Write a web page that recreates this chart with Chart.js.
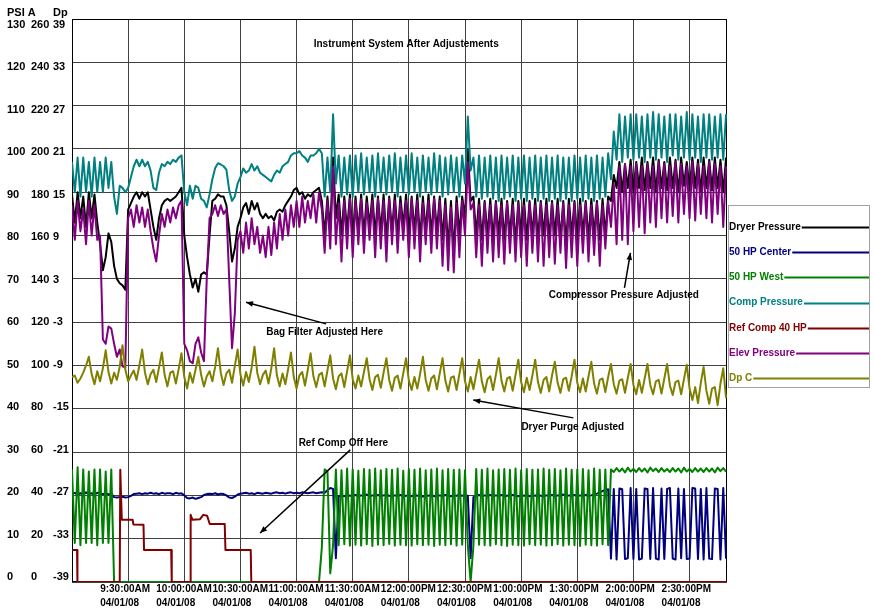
<!DOCTYPE html>
<html>
<head>
<meta charset="utf-8">
<title>Instrument System After Adjustements</title>
<script src="https://cdn.jsdelivr.net/npm/chart.js@4.4.1/dist/chart.umd.min.js"></script>
<style>
  html, body { margin: 0; padding: 0; background: #fff; }
  #grafico { display: block; }
</style>
</head>
<body>
<canvas id="grafico" width="874" height="614"></canvas>
<script>
// minutes between samples, t = 0 is 9:00:00AM
const STEP = 1.5;

// x axis: tick times (minutes after 9:00) and their labels
const timeTicks = [30, 60, 90, 120, 150, 180, 210, 240, 270, 300, 330];
const timeLabels = ['9:30:00AM', '10:00:00AM', '10:30:00AM', '11:00:00AM', '11:30:00AM', '12:00:00PM',
  '12:30:00PM', '1:00:00PM', '1:30:00PM', '2:00:00PM', '2:30:00PM'];
const dateLabel = '04/01/08';

// the three left columns
const psiTicks = [0, 10, 20, 30, 40, 50, 60, 70, 80, 90, 100, 110, 120, 130];
const col2Ticks = [0, 20, 40, 60, 80, 100, 120, 140, 160, 180, 200, 220, 240, 260];
const dpTicks = [-39, -33, -27, -21, -15, -9, -3, 3, 9, 15, 21, 27, 33, 39];

// PSI A, one value every STEP minutes
const dryerPressure = [
  89.5, 83, 90, 84, 89, 82, 90, 84, 89.5, 83,
  78, 72, 75, 80.5, 78.5, 73, 70, 69, 68.5, 67.5,
  86, 87.5, 89, 90, 88.5, 90, 89, 90, 86, 82,
  79, 84, 87, 88, 88.5, 88, 88.5, 89, 90, 91,
  80, 75, 71, 68, 70, 67, 71, 71.5, 71, 80,
  88, 88.5, 89.5, 89, 89, 87, 81, 74, 77, 82,
  84, 86.5, 87.5, 85, 88, 86, 87.5, 85, 84, 85,
  84, 84.5, 83.5, 85.5, 86, 85.5, 87, 88, 89, 90.5,
  91, 89.5, 90, 88.5, 89.5, 89, 90, 90.5, 91, 88,
  80, 89, 81, 98, 84, 89.5, 80, 89, 81, 89.5,
  79, 89, 81, 89.5, 80, 89, 82, 89.5, 80, 89,
  81, 89.5, 79, 89, 81, 89.5, 80, 89, 82, 89.5,
  80, 89, 81, 89.5, 79, 89, 81, 89.5, 80, 89,
  81, 89, 79, 88.5, 77, 88, 76, 89, 80, 89,
  84, 100, 88, 89, 80, 88.5, 79, 88, 80, 88.5,
  79, 88, 80, 88.5, 79, 88, 80, 88.5, 78, 88,
  80, 88.5, 79, 88, 80, 88.5, 79, 88, 80, 88.5,
  79, 88, 80, 88.5, 79, 88, 78, 88.5, 80, 88,
  79, 88.5, 80, 88, 79, 88.5, 80, 88, 79, 88.5,
  80, 89, 88, 94, 91, 97, 90, 96.5, 91, 97.5,
  90, 97, 91, 98, 90.5, 97, 91, 98, 90, 97.5,
  91, 97, 90.5, 98, 91, 97.5, 90, 98, 91.5, 97,
  90.5, 98, 91, 97.5, 90, 98, 91, 97.5, 90.5, 98,
  91, 97.5, 90, 98
];

const hp50Center = [
  20.3, 20.6, 20.1, 20.5, 20.2, 20.7, 20.3, 20.5, 20.2, 20.6,
  20.4, 20.3, 20.5, 20.2, 20.4, 19.6, 19.5, 19.6, 19.7, 19.5,
  19.6, 19.9, 20.3, 20.4, 20.5, 20.3, 20.5, 20.4, 20.6, 20.4,
  20.5, 20.3, 20.6, 20.4, 20.5, 20.5, 20.3, 20.6, 20.4, 20.5,
  20.0, 19.4, 19.3, 19.5, 19.2, 19.4, 19.6, 20.1, 20.3, 20.4,
  20.3, 20.5, 20.2, 20.4, 20.3, 20.0, 19.5, 19.4, 19.7, 20.2,
  20.4, 20.5, 20.6, 20.4, 20.5, 20.3, 20.6, 20.5, 20.4, 20.6,
  20.5, 20.4, 20.6, 20.7, 20.5, 20.6, 20.4, 20.6, 20.7, 20.5,
  20.6, 20.5, 20.7, 20.6, 20.5, 20.6, 20.7, 20.5, 20.6, 20.7,
  20.6, 21.2, 21.7, 21.5, 5.5, 19.8, 20.0, 19.8, 20.1, 19.9,
  19.9, 20.1, 19.8, 20.0, 19.9, 20.2, 19.8, 20.0, 19.9, 20.1,
  19.8, 20.0, 20.1, 19.9, 19.8, 20.0, 19.9, 20.1, 19.8, 19.9,
  20.0, 19.8, 20.1, 19.9, 20.0, 19.7, 20.0, 19.9, 20.1, 19.8,
  19.9, 20.0, 19.8, 20.1, 19.9, 19.8, 20.0, 19.9, 20.1, 19.9,
  20.0, 19.9, 5.5, 19.6, 19.9, 20.1, 19.8, 20.0, 19.9, 20.1,
  19.8, 20.0, 19.9, 20.1, 19.8, 19.9, 20.0, 20.1, 19.9, 19.8,
  20.0, 19.9, 20.1, 19.8, 20.0, 19.9, 20.1, 19.9, 19.8, 20.0,
  19.9, 20.1, 19.8, 20.0, 19.9, 20.2, 19.8, 20.0, 19.9, 20.1,
  19.8, 20.0, 19.9, 20.1, 19.9, 20.0, 20.2, 20.4, 20.7, 21.0,
  21.2, 21.4, 5.4, 21.5, 5.2, 21.6, 21.4, 5.3, 5.5, 21.7,
  5.3, 21.5, 5.2, 5.4, 21.6, 21.5, 5.3, 21.7, 5.4, 5.2,
  21.6, 5.3, 21.5, 21.7, 5.4, 5.2, 21.6, 5.5, 21.5, 5.3,
  5.4, 21.7, 21.6, 5.3, 21.5, 5.2, 21.7, 5.4, 5.3, 21.6,
  21.5, 5.2, 21.7, 5.4
];

const hp50West = [
  26, 9, 26.5, 8.5, 26, 9, 25.5, 9, 26, 8.5,
  26, 9, 25.5, 9, 26, 0, 0, 0, 0, 0,
  0, 0, 0, 0, 0, 0, 0, 0, 0, 0,
  0, 0, 0, 0, 0, 0, 0, 0, 0, 0,
  0, 0, 0, 0, 0, 0, 0, 0, 0, 0,
  0, 0, 0, 0, 0, 0, 0, 0, 0, 0,
  0, 0, 0, 0, 0, 0, 0, 0, 0, 0,
  0, 0, 0, 0, 0, 0, 0, 0, 0, 0,
  0, 0, 0, 0, 0, 0, 0, 0, 0, 8,
  26, 25.5, 2, 8.5, 26, 8.5, 25.8, 8.7, 26.2, 8.4,
  26, 8.6, 25.7, 8.4, 26.1, 8.7, 25.9, 8.3, 26.2, 8.6,
  25.8, 8.5, 26.1, 8.8, 25.9, 8.4, 26.2, 8.6, 25.7, 8.5,
  26.1, 8.4, 25.9, 8.7, 26.2, 8.5, 25.8, 8.6, 26.0, 8.3,
  26.2, 8.6, 25.8, 8.5, 26.1, 8.7, 25.9, 8.4, 26.0, 8.6,
  25.8, 8.5, 0, 8.4, 26.1, 8.6, 25.9, 8.5, 26.2, 8.4,
  25.8, 8.7, 26.0, 8.5, 26.1, 8.3, 25.9, 8.6, 26.2, 8.5,
  25.8, 8.4, 26.1, 8.7, 25.9, 8.5, 26.0, 8.6, 26.2, 8.4,
  25.9, 8.5, 26.1, 8.7, 25.8, 8.4, 26.2, 8.6, 25.9, 8.5,
  26.0, 8.3, 26.1, 8.6, 25.8, 8.5, 26.2, 8.4, 25.9, 8.7,
  26.0, 8.5, 26.0, 25.4, 26.3, 25.5, 26.2, 25.3, 26.4, 25.5,
  26.1, 25.4, 26.3, 25.5, 26.2, 25.3, 26.4, 25.6, 26.2, 25.4,
  26.3, 25.5, 26.1, 25.4, 26.3, 25.5, 26.2, 25.3, 26.4, 25.5,
  26.1, 25.4, 26.3, 25.5, 26.2, 25.4, 26.3, 25.5, 26.2, 25.3,
  26.4, 25.6, 26.3, 25.5
];

const compPressure = [
  97, 90, 98, 89, 98, 90, 97, 89, 98, 90,
  97, 90, 98, 91, 97, 89, 85, 91.5, 91, 90,
  91, 93.5, 96, 97.5, 96, 97.5, 96, 97, 95, 91,
  90.5, 94.5, 96.5, 96, 97, 96.5, 97.5, 97, 98, 98.5,
  90, 87, 91.5, 88.5, 91.5, 91, 88.5, 88, 86.5, 89.5,
  93, 95.6, 96.7, 96.4, 96, 95.2, 90.5, 88, 89, 92,
  93.5, 95.5, 94.5, 95, 96.5, 95, 96, 94.5, 94, 93.5,
  93, 92.5, 94, 95, 94.5, 96, 96.5, 97, 98.5, 99,
  99, 99.5, 98.5, 98, 97, 98.5, 98.5, 99, 100, 99,
  89, 98, 90, 108, 92, 98.5, 89, 98, 89.5, 98.5,
  89, 98.5, 90, 99, 89.5, 98, 90, 98.5, 89, 99,
  90, 98, 89.5, 98.5, 90, 99, 89, 98, 90, 98.5,
  89.5, 99, 90, 98, 89, 98.5, 90, 98, 89.5, 99,
  90, 98.5, 89, 98, 89.5, 98.5, 90, 98, 89, 98.5,
  92, 107.5, 95, 98, 89, 98.5, 88.5, 98, 89, 98.5,
  88.5, 98, 88, 98.5, 88.5, 98, 89, 98.5, 88, 98,
  88.5, 98.5, 88, 98, 88.5, 98.5, 88, 98, 88.5, 98.5,
  88, 98, 88.5, 98.5, 88, 98, 88.5, 98, 88, 98.5,
  88.5, 98, 88, 98.5, 88.5, 98, 88, 98.5, 88.5, 98,
  89, 99, 93, 104, 97.5, 108, 97, 107.5, 98, 108,
  97.5, 108, 98, 107.5, 97, 108, 98, 108.5, 97.5, 108,
  98, 107.5, 97, 108, 98.5, 108, 97.5, 107.5, 98, 108.5,
  97.5, 108, 98, 107.5, 97, 108, 98, 108, 97.5, 107.5,
  98, 108, 97.5, 108
];

// Ref Comp 40 HP is a step trace: times (min) and values
const refCompT = [0, 2.7, 2.9, 25.5, 25.8, 26.6, 32.4, 32.8, 38.2, 38.5, 53, 53.3,
  63.1, 63.4, 64.3, 68.4, 70.2, 72.2, 73.6, 81.6, 82, 95.5, 95.8, 350];
const refCompV = [7.4, 7.4, 0, 0, 25.9, 14.4, 14.4, 13.3, 13.2, 7.4, 7.4, 0,
  0, 15.5, 14.4, 14.5, 15.5, 15.3, 13.4, 13.4, 7.4, 7.4, 0, 0];

const elevPressure = [
  87, 79, 88, 81, 86, 78, 88, 80, 87, 79,
  80, 56, 55, 59, 58.5, 55, 52, 53.7, 49.8, 49.5,
  84, 86, 82, 87, 83, 86.5, 82, 86, 81, 77,
  74, 80, 85, 82, 86, 83, 86.5, 84, 87, 88,
  55, 53.5, 51, 50.5, 55, 56.5, 53, 51, 70, 84,
  85, 87, 84.5, 87, 85, 86, 70, 54, 62, 79,
  81, 76, 83, 77, 84, 78, 82, 76, 80, 75,
  82, 75.5, 83, 77, 85, 79, 86, 80, 87, 82,
  88, 82, 89, 83, 88, 84, 89.5, 83, 90, 86,
  76, 88, 77, 96, 78, 87.5, 74, 88, 77, 88.5,
  75, 88, 78, 88.5, 76, 87.5, 79, 88, 75, 88.5,
  77, 88, 74, 88.5, 78, 88, 76, 87.5, 79, 88,
  75, 88.5, 77, 88, 74, 87.5, 78, 88, 76, 88.5,
  77, 88, 73, 87, 72, 86.5, 71.5, 87.5, 75, 88,
  80, 97, 86, 87.5, 75, 87, 73, 87.5, 76, 87,
  74, 87.5, 75, 87, 73.5, 87.5, 76, 87, 74, 87.5,
  75, 87, 73, 87.5, 76, 87, 74, 87.5, 73, 87,
  75, 87.5, 73.5, 87, 76, 87.5, 72.5, 87, 75, 87.5,
  73, 87, 76, 87.5, 74, 87, 75.5, 87.5, 73, 87,
  77, 88, 82, 92, 78, 96, 79, 96.5, 78, 96,
  81, 96.5, 82, 96, 80.5, 96.5, 83, 96, 82, 97,
  84, 96.5, 83, 96, 84.5, 97, 83, 96.5, 85, 96,
  84, 97, 83.5, 96.5, 85, 96, 84, 97, 83, 96.5,
  85, 96, 82, 96
];

// Dp C in Dp units (right-hand scale of the three columns)
const dpC = [
  -10.6, -10.4, -11.4, -10.8, -10.0, -9.0,
  -7.8, -10.2, -11.6, -9.8, -11.2, -9.4,
  -6.9, -9.9, -11.5, -10.0, -11.0, -9.2,
  -6.2, -9.6, -11.2, -10.4, -9.7, -11.0, -9.0,
  -6.8, -10.0, -11.6, -10.2, -9.6, -11.3, -9.3,
  -7.2, -10.3, -11.9, -10.0, -9.8, -11.5, -9.5,
  -7.3, -10.6, -12.2, -10.0, -11.4, -9.6,
  -7.8, -10.3, -11.9, -10.5, -9.8, -11.2, -9.2,
  -6.6, -10.0, -11.7, -10.1, -9.6, -11.4, -9.1,
  -6.8, -10.2, -11.8, -9.9, -11.3, -9.3,
  -6.4, -10.0, -11.6, -10.3, -9.7, -11.5, -9.4,
  -6.6, -10.4, -11.9, -10.1, -11.6, -9.5,
  -7.2, -10.6, -12.2, -10.4, -9.9, -11.8, -9.6,
  -7.3, -10.5, -12.0, -10.3, -10.0, -11.9, -9.7,
  -7.6, -10.8, -12.3, -10.5, -10.1, -12.0, -9.8,
  -7.6, -10.9, -12.2, -10.4, -11.9, -9.9,
  -8.0, -10.9, -12.4, -10.6, -10.3, -12.1, -10.0,
  -8.0, -11.0, -12.5, -10.7, -10.4, -12.2, -10.1,
  -8.0, -11.1, -12.4, -10.6, -12.2, -10.2,
  -7.8, -11.0, -12.5, -10.8, -10.4, -12.3, -10.1,
  -8.0, -11.1, -12.6, -10.7, -10.5, -12.4, -10.2,
  -8.0, -11.2, -12.6, -10.6, -12.3, -10.2,
  -8.2, -11.2, -12.7, -10.9, -10.5, -12.4, -10.3,
  -8.0, -11.1, -12.6, -10.8, -10.6, -12.5, -10.3,
  -8.2, -11.3, -12.7, -10.7, -12.4, -10.4,
  -8.2, -11.3, -12.8, -11.0, -10.6, -12.6, -10.4,
  -8.5, -11.4, -12.8, -10.9, -10.7, -12.5, -10.5,
  -8.2, -11.4, -12.7, -10.8, -12.6, -10.5,
  -8.5, -11.5, -12.9, -11.0, -10.8, -12.7, -10.6,
  -8.8, -11.6, -12.9, -11.1, -10.9, -12.8, -10.7,
  -8.8, -11.7, -13.0, -11.0, -12.8, -10.8,
  -8.8, -11.7, -13.0, -11.2, -11.0, -12.9, -10.8,
  -8.8, -11.8, -13.1, -11.3, -11.1, -13.0, -10.9,
  -8.9, -12.2, -13.8, -12.0, -14.2, -11.4,
  -9.2, -12.5, -14.3, -12.2, -12.0, -14.5, -11.5,
  -9.4, -13.5
];

// notes written on the chart, in minutes / PSI A
const chartTitle = { text: 'Instrument System After Adjustements', t: 178.6, psi: 124.2 };
const notes = [
  { text: 'Bag Filter Adjusted Here', t: 135, psi: 57.7, from: [135.8, 59.6], to: [93, 64.6] },
  { text: 'Compressor Pressure Adjusted', t: 294.9, psi: 66.3, from: [295.2, 67.9], to: [298.4, 76] },
  { text: 'Dryer Purge Adjusted', t: 267.6, psi: 35.8, from: [267.9, 37.9], to: [214.4, 42] },
  { text: 'Ref Comp Off Here', t: 145, psi: 32.1, from: [148.7, 30.5], to: [100.5, 11.3] }
];

const FONT = '"Liberation Sans", Arial, sans-serif';

function sampled(values) {
  return values.map((v, i) => ({ x: i * STEP, y: v }));
}

function paired(ts, vs) {
  return ts.map((t, i) => ({ x: t, y: vs[i] }));
}

function linha(label, data, color, order, axis) {
  return {
    label: label,
    data: data,
    borderColor: color,
    backgroundColor: color,
    borderWidth: 2,
    pointRadius: 0,
    tension: 0,
    fill: false,
    borderJoinStyle: 'round',
    order: order,
    yAxisID: axis || 'y'
  };
}

function seta(ctx, x1, y1, x2, y2) {
  ctx.beginPath();
  ctx.moveTo(x1, y1);
  ctx.lineTo(x2, y2);
  ctx.stroke();
  const ang = Math.atan2(y2 - y1, x2 - x1);
  const L = 7, W = 2.8;
  ctx.beginPath();
  ctx.moveTo(x2, y2);
  ctx.lineTo(x2 - L * Math.cos(ang) + W * Math.sin(ang), y2 - L * Math.sin(ang) - W * Math.cos(ang));
  ctx.lineTo(x2 - L * Math.cos(ang) - W * Math.sin(ang), y2 - L * Math.sin(ang) + W * Math.cos(ang));
  ctx.closePath();
  ctx.fill();
}

// frame, axis texts, legend box and the notes
const moldura = {
  id: 'moldura',
  beforeDatasetsDraw(chart) {
    const { ctx, chartArea: a } = chart;
    ctx.save();
    ctx.strokeStyle = '#000';
    ctx.lineWidth = 1;
    ctx.strokeRect(a.left + 0.5, a.top + 0.5, a.right - a.left - 1, a.bottom - a.top - 1);
    ctx.restore();
  },
  afterDraw(chart) {
    const { ctx, chartArea: a, scales } = chart;
    const x = scales.x, y = scales.y;
    ctx.save();
    ctx.textBaseline = 'middle';
    ctx.textAlign = 'left';
    ctx.fillStyle = '#000';

    // left columns
    ctx.font = 'bold 11px ' + FONT;
    ctx.fillText('PSI A', 7, a.top - 6);
    ctx.fillText('Dp', 53, a.top - 6);
    const h = a.bottom - a.top;
    const squeeze = (h - 11) / h;
    psiTicks.forEach((v, k) => {
      const py = a.top + 6 + (y.getPixelForValue(v) - a.top) * squeeze;
      ctx.fillText(String(v), 7, py);
      ctx.fillText(String(col2Ticks[k]), 31, py);
      ctx.fillText(String(dpTicks[k]), 53, py);
    });

    // time labels
    ctx.font = 'bold 10px ' + FONT;
    timeTicks.forEach((t, k) => {
      const px = x.getPixelForValue(t) - 28;
      ctx.fillText(timeLabels[k], px, a.bottom + 7);
      ctx.fillText(dateLabel, px, a.bottom + 21);
    });

    // notes
    ctx.font = 'bold 10px ' + FONT;
    ctx.textAlign = 'center';
    ctx.fillText(chartTitle.text, x.getPixelForValue(chartTitle.t), y.getPixelForValue(chartTitle.psi));
    ctx.strokeStyle = '#000';
    ctx.lineWidth = 1.5;
    notes.forEach(n => {
      ctx.fillText(n.text, x.getPixelForValue(n.t), y.getPixelForValue(n.psi));
      seta(ctx, x.getPixelForValue(n.from[0]), y.getPixelForValue(n.from[1]),
        x.getPixelForValue(n.to[0]), y.getPixelForValue(n.to[1]));
    });

    // legend
    ctx.textAlign = 'left';
    const lx = a.right + 1, ly = 205, lw = 141, lh = 182;
    ctx.strokeStyle = '#a0a0a0';
    ctx.lineWidth = 1;
    ctx.strokeRect(lx + 0.5, ly + 0.5, lw, lh);
    chart.data.datasets.forEach((ds, k) => {
      const cy = ly + 22 + k * 25.2;
      ctx.fillStyle = ds.borderColor;
      ctx.fillText(ds.label, lx + 1, cy);
      const w = ctx.measureText(ds.label).width;
      ctx.strokeStyle = ds.borderColor;
      ctx.lineWidth = 2;
      ctx.beginPath();
      ctx.moveTo(lx + 2 + w, Math.round(cy) + 0.5);
      ctx.lineTo(lx + lw, Math.round(cy) + 0.5);
      ctx.stroke();
    });
    ctx.restore();
  }
};

const ctx = document.getElementById('grafico').getContext('2d');
const grafico = new Chart(ctx, {
  type: 'line',
  data: {
    datasets: [
      linha('Dryer Pressure', sampled(dryerPressure), '#000000', 6),
      linha('50 HP Center', sampled(hp50Center), '#000080', 5),
      linha('50 HP West', sampled(hp50West), '#008000', 4),
      linha('Comp Pressure', sampled(compPressure), '#008080', 3),
      linha('Ref Comp 40 HP', paired(refCompT, refCompV), '#800000', 2),
      linha('Elev Pressure', sampled(elevPressure), '#800080', 1),
      linha('Dp C', sampled(dpC), '#808000', 0, 'yDp')
    ]
  },
  options: {
    responsive: false,
    devicePixelRatio: 1,
    animation: false,
    layout: { padding: { left: 72, top: 19, right: 147, bottom: 32 } },
    plugins: {
      legend: { display: false },
      tooltip: { enabled: false },
      title: { display: false }
    },
    scales: {
      x: {
        type: 'linear',
        min: 0,
        max: 350,
        afterBuildTicks: s => { s.ticks = timeTicks.map(v => ({ value: v })); },
        ticks: { display: false },
        grid: { color: '#404040', lineWidth: 1, drawTicks: false },
        border: { display: false }
      },
      y: {
        min: 0,
        max: 130,
        ticks: { display: false, stepSize: 10 },
        grid: { color: '#404040', lineWidth: 1, drawTicks: false },
        border: { display: false }
      },
      yDp: {
        display: false,
        min: -39,
        max: 39
      }
    }
  },
  plugins: [moldura]
});
</script>
</body>
</html>
